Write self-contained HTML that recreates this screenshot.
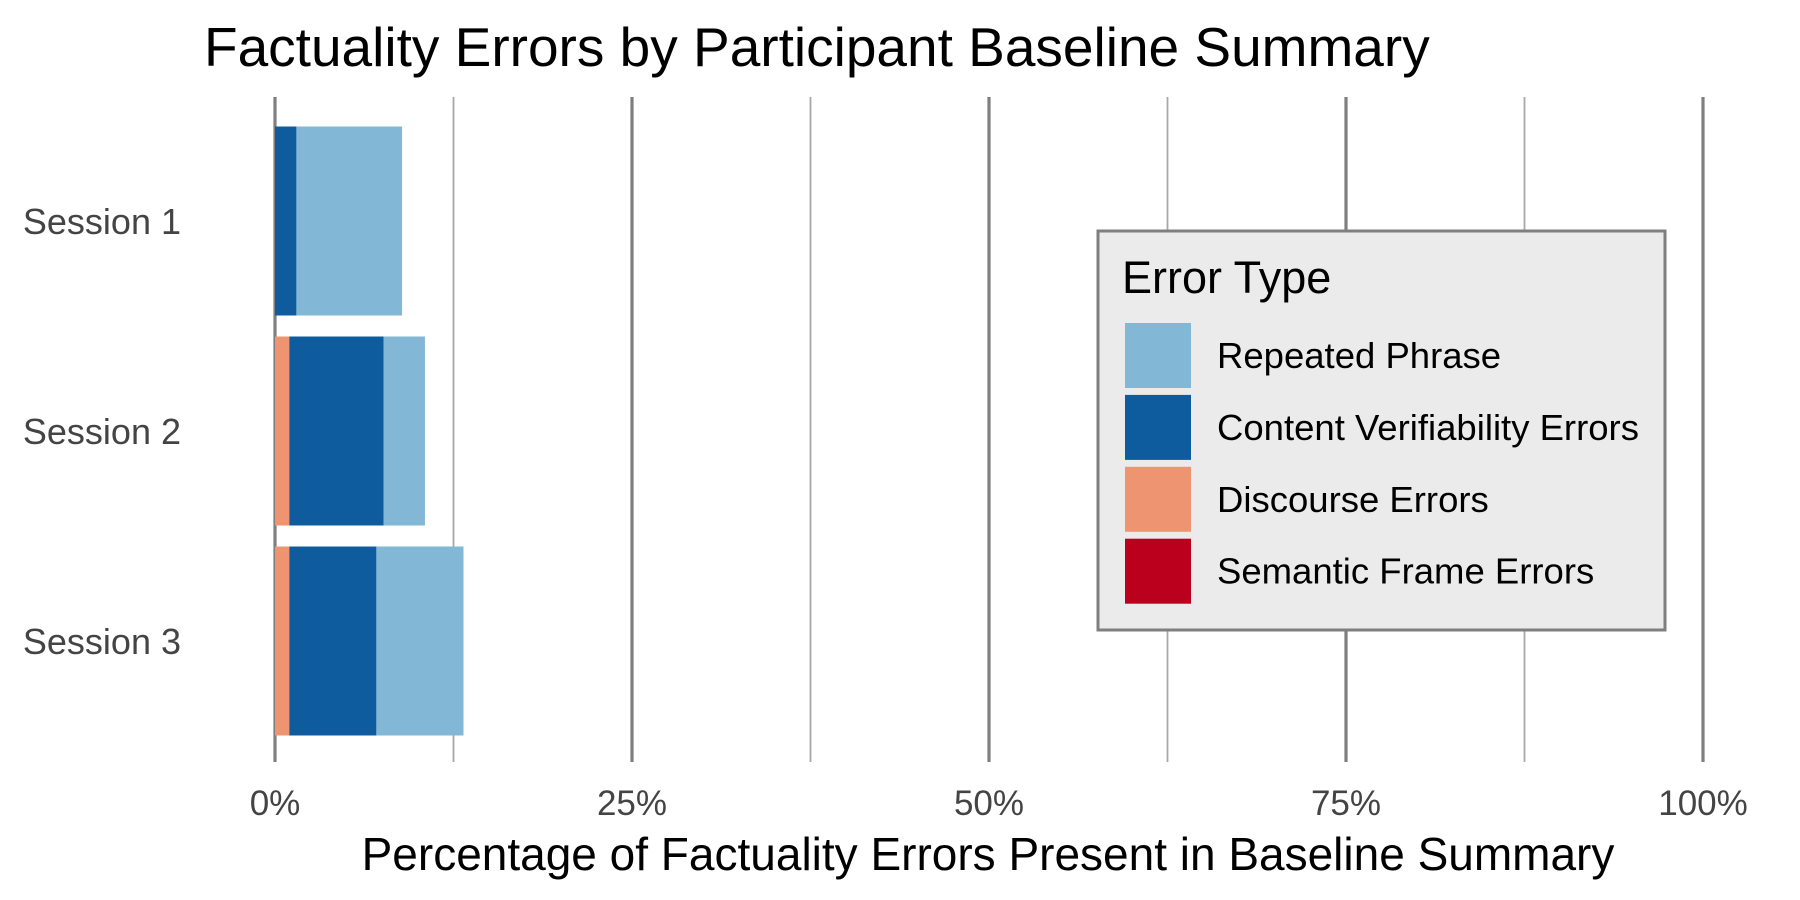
<!DOCTYPE html>
<html><head><meta charset="utf-8"><style>
html,body{margin:0;padding:0;background:#fff;}
svg{display:block;font-family:"Liberation Sans",Arial,sans-serif;}
</style></head><body>
<svg id="chart" width="1800" height="900" viewBox="0 0 1800 900">
<rect width="1800" height="900" fill="#fff"/>
<text x="204" y="66" font-size="55" fill="#000">Factuality Errors by Participant Baseline Summary</text>
<g id="grid"></g>
<g id="bars"></g>
<g id="yaxis"></g>
<g id="xaxis"></g>
<text x="988" y="870" font-size="46" text-anchor="middle" fill="#000">Percentage of Factuality Errors Present in Baseline Summary</text>
<g>
<rect x="1098" y="231" width="567" height="399" fill="#ebebeb" stroke="#7f7f7f" stroke-width="3"/>
<text x="1122" y="293" font-size="45" fill="#000">Error Type</text>
<g id="legend-entries"></g>
</g>
</svg>
<script>
const categories = ["Session 1","Session 2","Session 3"];
const seriesNames = ["Discourse Errors","Content Verifiability Errors","Repeated Phrase","Semantic Frame Errors"];
const discourse = [0, 1.0, 1.0];
const contentVerif = [1.5, 6.6, 6.1];
const repeated = [7.4, 2.9, 6.1];
const semantic = [0, 0, 0];
const xTicks = [0,25,50,75,100];
const xTickLabels = ["0%","25%","50%","75%","100%"];
const minorTicks = [12.5,37.5,62.5,87.5];
const legendNames = ["Repeated Phrase","Content Verifiability Errors","Discourse Errors","Semantic Frame Errors"];

const colors = {"Discourse Errors":"#ef9470","Content Verifiability Errors":"#0e5c9e","Repeated Phrase":"#82b7d6","Semantic Frame Errors":"#bb001e"};
const NS="http://www.w3.org/2000/svg";
const X0=275, X1=1703, GRID_TOP=97, GRID_BOT=762, BAND_TOP=116, BAND_BOT=746;
const xScale=v=>X0+(X1-X0)*v/100;
const band=(BAND_BOT-BAND_TOP)/categories.length;
const yCenter=i=>BAND_TOP+band*(i+0.5);
const barH=band*0.9;
function mk(tag,attrs,parent){const e=document.createElementNS(NS,tag);for(const k in attrs)e.setAttribute(k,attrs[k]);parent.appendChild(e);return e;}
const grid=document.getElementById('grid');
minorTicks.forEach(t=>{const l=mk('line',{x1:xScale(t),x2:xScale(t),y1:GRID_TOP,y2:GRID_BOT,stroke:'#a8a8a8','stroke-width':1.8},grid);

});
xTicks.forEach(t=>{const l=mk('line',{x1:xScale(t),x2:xScale(t),y1:GRID_TOP,y2:GRID_BOT,stroke:'#7f7f7f','stroke-width':3.2},grid);

});
const bars=document.getElementById('bars');
const series=[discourse,contentVerif,repeated,semantic];
categories.forEach((c,i)=>{let acc=0;series.forEach((s,j)=>{const v=s[i];if(v<=0)return;
const r=mk('rect',{x:xScale(acc),y:yCenter(i)-barH/2,width:xScale(acc+v)-xScale(acc),height:barH,fill:colors[seriesNames[j]]},bars);


acc+=v;});});
const ya=document.getElementById('yaxis');
categories.forEach((c,i)=>{const t=mk('text',{x:181,y:yCenter(i)+13,'font-size':36,'text-anchor':'end',fill:'#444'},ya);t.textContent=c;

});
const xa=document.getElementById('xaxis');
xTicks.forEach((tv,i)=>{const t=mk('text',{x:xScale(tv),y:815,'font-size':35,'text-anchor':'middle',fill:'#444'},xa);t.textContent=xTickLabels[i];

});
const le=document.getElementById('legend-entries');
legendNames.forEach((n,i)=>{const y=323+i*71.9;
const r=mk('rect',{x:1125,y:y,width:66,height:65,fill:colors[n]},le);


const t=mk('text',{x:1217,y:y+45,'font-size':36.5,fill:'#000'},le);t.textContent=n;

});
</script>
</body></html>
